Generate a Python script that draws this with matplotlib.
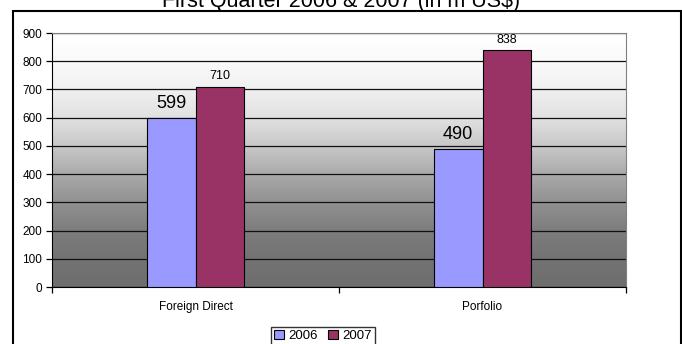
import numpy as np
import matplotlib
matplotlib.use("Agg")
import matplotlib.pyplot as plt
from matplotlib.patches import Rectangle
from matplotlib.colors import LinearSegmentedColormap

plt.rcParams['font.family'] = ['Liberation Sans', 'DejaVu Sans']

# data
categories = ['Foreign Direct', 'Porfolio']
years = ['2006', '2007']
values_2006 = [599, 490]
values_2007 = [710, 838]
title = 'First Quarter 2006 & 2007 (in m US\\$)'

W, H = 682, 344
fig = plt.figure(figsize=(W / 100, H / 100), dpi=100)

# outer chart frame
fig.patches.append(Rectangle((12.5 / W, -0.05), 668 / W, 1.05 - 11 / H,
                             transform=fig.transFigure, fill=False,
                             edgecolor='black', lw=1.5))

ax = fig.add_axes([52 / W, 1 - 287 / H, 574 / W, 254 / H])

# gradient backdrop, white at top to dark grey at bottom
shades = [110, 115, 125, 145, 170, 200, 225, 240, 250, 255]
stops = [(i / 9, '#%02x%02x%02x' % (s, s, s)) for i, s in enumerate(shades)]
grey = LinearSegmentedColormap.from_list('bg', stops)
grad = np.linspace(0, 1, 256).reshape(-1, 1)
ax.imshow(grad, cmap=grey, origin='lower', aspect='auto',
          extent=[0, 1, 0, 1], transform=ax.transAxes, zorder=0)

x = np.arange(len(categories))
w = 0.17
b1 = ax.bar(x - w / 2, values_2006, w, color='#9999ff', edgecolor='black',
            lw=0.8, label=years[0], zorder=3)
b2 = ax.bar(x + w / 2, values_2007, w, color='#993366', edgecolor='black',
            lw=0.8, label=years[1], zorder=3)

for r, v in zip(b1, values_2006):
    ax.annotate(str(v), (r.get_x() + r.get_width() / 2, v), xytext=(0, 7),
                textcoords='offset points', ha='center', va='baseline',
                fontsize=13)
for r, v in zip(b2, values_2007):
    ax.annotate(str(v), (r.get_x() + r.get_width() / 2, v), xytext=(0, 5.5),
                textcoords='offset points', ha='center', va='baseline',
                fontsize=9)

ax.set_xlim(-0.5, 1.5)
ax.set_ylim(0, 900)
ax.set_yticks(range(0, 901, 100))
ax.grid(axis='y', color='#111111', lw=0.9, zorder=1)
ax.set_axisbelow(True)

ax.set_xticks(x)
ax.set_xticklabels(categories, fontsize=8.5)
ax.set_xticks([-0.5, 0.5, 1.5], minor=True)
ax.tick_params(axis='x', which='major', length=0, pad=10)
ax.tick_params(axis='x', which='minor', length=4, direction='out', width=0.9)
ax.tick_params(axis='y', length=4, direction='out', labelsize=8.5, pad=3, width=0.9)

for s in ['top', 'right']:
    ax.spines[s].set_color('#808080')
for s in ['left', 'bottom']:
    ax.spines[s].set_color('black')

# title sits partly above the top edge, as in the source image
fig.text(0.5, 1 - 7 / H, title, ha='center', va='baseline', fontsize=15.5)

fig.legend(loc='upper center', bbox_to_anchor=(323 / W, 1 - 327 / H), ncol=2,
           fontsize=9.5, frameon=True, fancybox=False, edgecolor='black',
           handlelength=0.75, handleheight=0.75, handletextpad=0.35,
           columnspacing=0.8, borderpad=0.2, borderaxespad=0)

fig.savefig('out.png', dpi=100)
